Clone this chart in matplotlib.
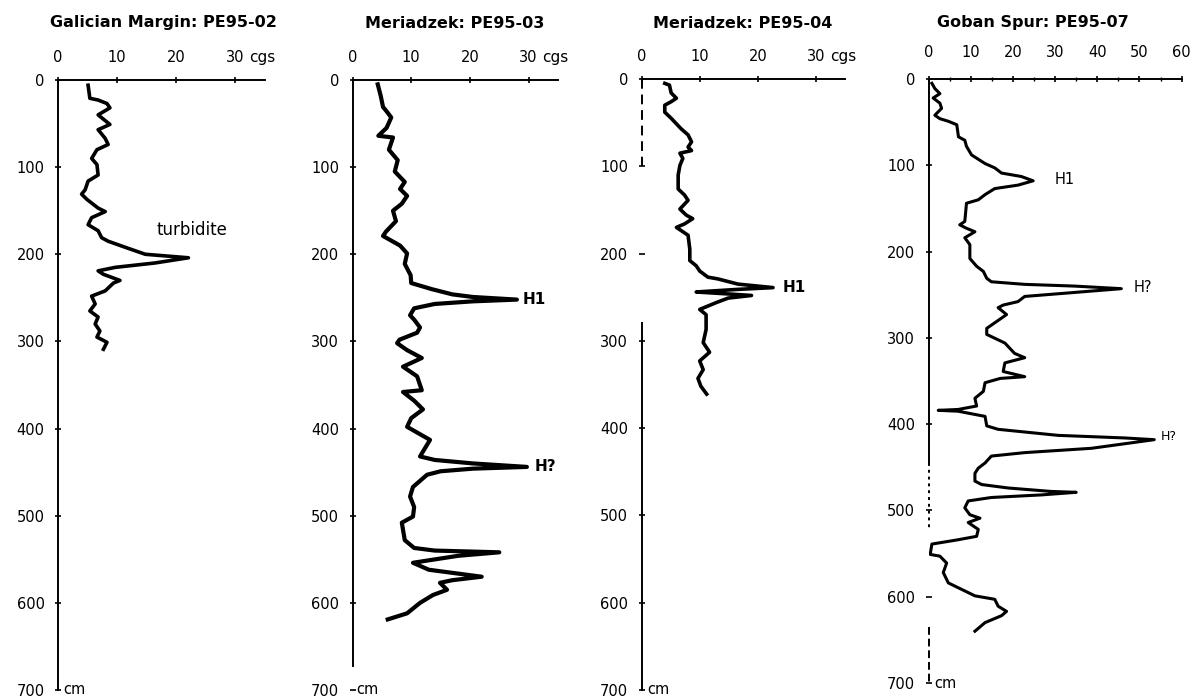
import matplotlib
matplotlib.use('Agg')
from matplotlib import pyplot as plt
from matplotlib.ticker import MultipleLocator

# ---- magnetic susceptibility (cgs) against depth (cm) ----
titles = ['Galician Margin: PE95-02', 'Meriadzek: PE95-03',
          'Meriadzek: PE95-04', 'Goban Spur: PE95-07']

pe02_depth = [6, 21, 23, 27, 32, 40, 51, 57, 67, 74,
              80, 90, 97, 109, 116, 126, 131, 137, 147, 151,
              158, 166, 173, 181, 185, 192, 200, 204, 210, 215,
              219, 223, 230, 233, 242, 248, 257, 265, 272, 280,
              288, 295, 301, 309]
pe02_sus = [5.1, 5.4, 6.8, 8.3, 8.8, 6.8, 8.8, 6.8, 8.0, 8.5,
            6.6, 5.7, 6.6, 6.8, 5.1, 4.6, 4.0, 4.9, 6.8, 8.0,
            5.7, 5.1, 6.8, 7.4, 8.5, 11.4, 14.8, 22.1, 16.4, 9.7,
            6.8, 7.7, 10.5, 9.4, 8.0, 5.7, 6.3, 5.4, 6.8, 6.3,
            7.1, 6.6, 8.3, 7.7]

pe03_depth = [5, 18, 31, 35, 43, 55, 64, 66, 80, 92,
              105, 117, 125, 133, 142, 150, 162, 174, 179, 190,
              199, 211, 224, 233, 240, 246, 249, 252, 254, 257,
              262, 270, 275, 284, 290, 298, 302, 310, 319, 329,
              340, 356, 358, 368, 378, 388, 398, 413, 432, 436,
              440, 444, 446, 449, 453, 467, 478, 490, 501, 508,
              520, 528, 537, 540, 542, 546, 554, 562, 570, 574,
              577, 585, 591, 600, 612, 619]
pe03_sus = [4.3, 4.8, 5.2, 5.7, 6.6, 5.8, 4.4, 6.9, 6.2, 7.7,
            7.2, 8.9, 8.1, 9.3, 8.4, 6.9, 7.4, 5.7, 5.2, 8.1,
            9.3, 8.9, 9.9, 10.0, 13.5, 17.0, 20.5, 28.0, 20.5, 14.0,
            10.5, 9.8, 10.5, 11.5, 11.0, 8.0, 7.6, 9.3, 11.8, 8.6,
            11.0, 11.8, 8.6, 10.5, 12.0, 10.0, 9.3, 13.2, 11.5, 14.0,
            20.5, 29.7, 20.5, 15.0, 12.7, 10.3, 9.8, 10.5, 10.3, 8.4,
            8.7, 8.9, 10.5, 14.0, 25.0, 18.0, 10.3, 13.0, 22.0, 17.0,
            14.9, 16.1, 13.7, 11.5, 9.3, 6.0]

pe04_depth = [5, 7, 16, 22, 26, 30, 38, 45, 57, 64,
              72, 78, 82, 85, 91, 99, 110, 126, 133, 139,
              149, 156, 160, 166, 170, 179, 195, 208, 214, 220,
              227, 229, 235, 239, 241, 244, 246, 248, 251, 256,
              264, 270, 287, 302, 313, 323, 333, 343, 352, 361]
pe04_sus = [4.0, 4.8, 5.1, 6.0, 5.1, 4.0, 4.0, 5.1, 6.8, 8.0,
            8.6, 8.0, 8.6, 6.6, 7.1, 6.6, 6.3, 6.3, 7.4, 8.0,
            6.6, 7.7, 8.8, 7.4, 6.0, 8.0, 8.3, 8.3, 9.4, 10.0,
            11.4, 13.1, 16.6, 22.6, 16.6, 9.4, 14.3, 18.9, 14.9, 12.9,
            10.0, 11.1, 11.1, 10.6, 11.7, 10.0, 10.6, 9.7, 10.2, 11.2]

pe07_depth = [5, 11, 17, 22, 28, 34, 42, 46, 49, 53,
              67, 71, 78, 88, 98, 103, 109, 113, 118, 123,
              127, 134, 140, 144, 165, 169, 173, 177, 184, 192,
              208, 217, 223, 231, 235, 238, 240, 243, 248, 252,
              258, 262, 265, 273, 289, 296, 306, 318, 323, 329,
              339, 345, 347, 352, 362, 370, 379, 383, 384, 385,
              391, 402, 406, 413, 416, 418, 428, 433, 437, 445,
              451, 457, 466, 470, 474, 478, 479, 482, 485, 489,
              497, 505, 509, 514, 522, 530, 534, 539, 551, 553,
              561, 572, 584, 599, 603, 611, 617, 622, 630, 640]
pe07_sus = [0.8, 1.5, 2.7, 1.1, 2.7, 3.1, 1.5, 2.7, 4.7, 6.7,
            7.1, 8.6, 9.0, 10.2, 13.4, 15.7, 17.3, 22.0, 24.8, 21.2,
            15.7, 13.4, 11.8, 9.0, 8.6, 7.4, 9.0, 11.0, 8.6, 9.8,
            9.8, 11.4, 13.0, 13.8, 14.9, 22.8, 34.6, 45.7, 33.0, 22.8,
            21.2, 17.7, 16.5, 18.5, 13.8, 13.8, 18.1, 20.4, 22.8, 18.1,
            17.7, 22.8, 17.0, 13.4, 13.0, 11.0, 11.4, 7.0, 2.3, 7.0,
            13.4, 13.8, 16.5, 30.7, 46.5, 53.5, 38.6, 22.8, 14.9, 13.4,
            11.8, 11.0, 11.0, 12.6, 18.9, 29.1, 35.0, 26.8, 14.9, 9.4,
            8.6, 9.8, 12.2, 9.4, 11.8, 11.4, 7.0, 0.8, 0.4, 2.7,
            4.3, 3.5, 4.7, 11.0, 15.7, 16.5, 18.5, 17.3, 13.4, 11.0]

depth_ticks = [0, 100, 200, 300, 400, 500, 600, 700]
sus_ticks_short = [0, 10, 20, 30]
sus_ticks_long = [0, 10, 20, 30, 40, 50, 60]

W, H = 1195, 700
fig = plt.figure(figsize=(W / 100, H / 100), dpi=100)
plt.rcParams['font.family'] = 'DejaVu Sans'


def core_axes(left, width, top, bottom, xmax, xticks, xpad):
    ax = fig.add_axes([left / W, 1 - bottom / H, width / W, (bottom - top) / H])
    ax.set_xlim(0, xmax)
    ax.set_ylim(700, 0)
    ax.xaxis.tick_top()
    ax.spines['right'].set_visible(False)
    ax.spines['bottom'].set_visible(False)
    for s in ('left', 'top'):
        ax.spines[s].set_linewidth(1.4)
    ax.set_xticks(xticks)
    ax.set_yticks(depth_ticks)
    ax.tick_params(axis='x', direction='inout', length=5, width=1.2,
                   labelsize=10.5, pad=xpad)
    ax.tick_params(axis='y', direction='inout', length=5, width=1.2,
                   labelsize=10.5, pad=7)
    ax.patch.set_alpha(0)
    return ax


def cgs_label(ax, xpad):
    ax.annotate('cgs', xy=(30, 1), xycoords=('data', 'axes fraction'),
                xytext=(10, xpad + 2.5), textcoords='offset points',
                ha='left', va='bottom', fontsize=11, annotation_clip=False)


def cm_label(ax, dx):
    ax.annotate('cm', xy=(0, 700), xytext=(dx, 0), textcoords='offset points',
                ha='left', va='center', fontsize=10.5, annotation_clip=False)


# PE95-02
ax1 = core_axes(58, 206.5, 80, 690, 35, sus_ticks_short, 8)
ax1.plot(pe02_sus, pe02_depth, color='black', lw=2.6, solid_joinstyle='round')
ax1.text(22.7, 172, 'turbidite', ha='center', va='center', fontsize=12)
cgs_label(ax1, 8)
cm_label(ax1, 4)

# PE95-03
ax2 = core_axes(352.5, 205.5, 80, 690, 35, sus_ticks_short, 8)
ax2.spines['left'].set_bounds(0, 673)
ax2.plot(pe03_sus, pe03_depth, color='black', lw=3.0, solid_joinstyle='round')
ax2.text(29, 252, 'H1', ha='left', va='center', fontsize=11, fontweight='bold')
ax2.text(31, 444, 'H?', ha='left', va='center', fontsize=11, fontweight='bold')
cgs_label(ax2, 8)
cm_label(ax2, 3)

# PE95-04 (broken scan axis)
ax3 = core_axes(641.5, 203.7, 79, 690, 35, sus_ticks_short, 8)
ax3.spines['left'].set_bounds(280, 700)
ax3.vlines(0, 0, 100, colors='black', linestyles=(0, (5, 3)), lw=1.4, clip_on=False)
ax3.plot(pe04_sus, pe04_depth, color='black', lw=2.6, solid_joinstyle='round')
ax3.text(24.3, 239, 'H1', ha='left', va='center', fontsize=11, fontweight='bold')
cgs_label(ax3, 8)
cm_label(ax3, 4)

# PE95-07
ax4 = core_axes(928.5, 253.2, 79, 683, 60, sus_ticks_long, 11)
ax4.xaxis.set_minor_locator(MultipleLocator(5))
ax4.tick_params(axis='x', which='minor', direction='inout', length=2.5, width=1)
ax4.spines['left'].set_bounds(0, 445)
ax4.vlines(0, 445, 522, colors='black', linestyles=(0, (1.5, 2)), lw=1.4, clip_on=False)
ax4.vlines(0, 635, 700, colors='black', linestyles=(0, (4, 2)), lw=1.4, clip_on=False)
ax4.plot(pe07_sus, pe07_depth, color='black', lw=2.2, solid_joinstyle='round')
ax4.text(30, 116, 'H1', ha='left', va='center', fontsize=10.5)
ax4.text(48.5, 242, 'H?', ha='left', va='center', fontsize=10.5)
ax4.text(55, 414, 'H?', ha='left', va='center', fontsize=9)
cm_label(ax4, 4)

title_x = [163, 455, 743, 1033]
for tx, t in zip(title_x, titles):
    fig.text(tx / W, 1 - 23 / H, t, ha='center', va='center',
             fontsize=11.5, fontweight='bold')

fig.savefig('out.png', dpi=100)
